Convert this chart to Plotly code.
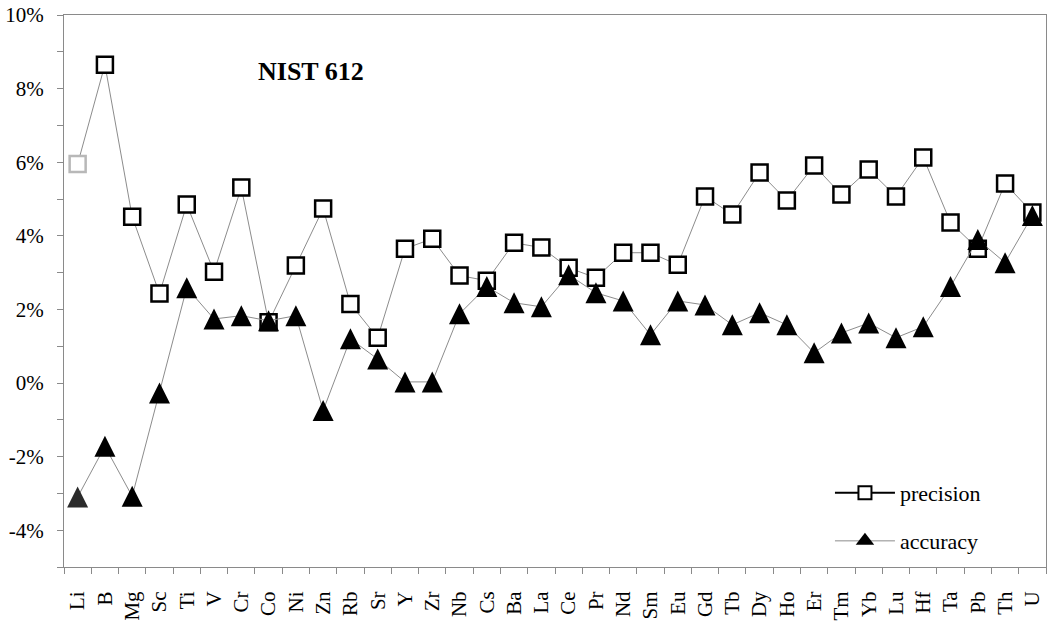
import plotly.graph_objects as go

elements = ["Li", "B", "Mg", "Sc", "Ti", "V", "Cr", "Co", "Ni", "Zn", "Rb", "Sr", "Y", "Zr",
            "Nb", "Cs", "Ba", "La", "Ce", "Pr", "Nd", "Sm", "Eu", "Gd", "Tb", "Dy", "Ho", "Er",
            "Tm", "Yb", "Lu", "Hf", "Ta", "Pb", "Th", "U"]

precision = [5.95, 8.65, 4.52, 2.43, 4.85, 3.02, 5.31, 1.65, 3.19, 4.74, 2.15, 1.23, 3.65, 3.92,
             2.92, 2.78, 3.81, 3.68, 3.13, 2.86, 3.54, 3.54, 3.21, 5.07, 4.58, 5.72, 4.96, 5.91,
             5.12, 5.80, 5.07, 6.13, 4.36, 3.65, 5.42, 4.63]

accuracy = [-3.10, -1.72, -3.08, -0.27, 2.59, 1.74, 1.83, 1.69, 1.83, -0.75, 1.20, 0.65, 0.03, 0.03,
            1.88, 2.62, 2.18, 2.07, 2.94, 2.45, 2.23, 1.31, 2.23, 2.12, 1.58, 1.91, 1.58, 0.82,
            1.36, 1.63, 1.23, 1.53, 2.62, 3.90, 3.27, 4.55]

y_tickvals = [-4, -2, 0, 2, 4, 6, 8, 10]
y_ticktext = ["-4%", "-2%", "0%", "2%", "4%", "6%", "8%", "10%"]
y_minorvals = [-5, -3, -1, 1, 3, 5, 7, 9]

SERIF = "Liberation Serif, Times New Roman, serif"

sq_line_colors = ["#b8b8b8"] + ["#000000"] * (len(elements) - 1)
tri_colors = ["#2b2b2b"] + ["#000000"] * (len(elements) - 1)

fig = go.Figure()

fig.add_trace(go.Scatter(
    x=elements, y=precision, mode="lines+markers", name="precision", showlegend=False,
    line=dict(color="#8c8c8c", width=1),
    marker=dict(symbol="square", size=16, color="white",
                line=dict(color=sq_line_colors, width=2.5)),
))

fig.add_trace(go.Scatter(
    x=elements, y=accuracy, mode="lines+markers", name="accuracy", showlegend=False,
    line=dict(color="#8c8c8c", width=1),
    marker=dict(symbol="arrow-down", angle=180, standoff=10.5, size=21, color=tri_colors,
                line=dict(width=0)),
))

# legend entries
fig.add_trace(go.Scatter(
    x=[None], y=[None], mode="lines+markers", name="precision", legend="legend",
    line=dict(color="black", width=2),
    marker=dict(symbol="square", size=13, color="white", line=dict(color="black", width=2)),
))
fig.add_trace(go.Scatter(
    x=[None], y=[None], mode="lines+markers", name="accuracy", legend="legend2",
    line=dict(color="#8c8c8c", width=1),
    marker=dict(symbol="triangle-up", size=16, color="black", line=dict(width=0)),
))

fig.update_layout(
    width=1052, height=621,
    margin=dict(l=64, r=6, t=15, b=54),
    paper_bgcolor="white", plot_bgcolor="white",
    font=dict(family=SERIF, color="black", size=20),
    legend=dict(x=0.78, y=0.134, xanchor="left", yanchor="middle", itemwidth=60,
                font=dict(family=SERIF, size=22), bgcolor="rgba(0,0,0,0)"),
    legend2=dict(x=0.78, y=0.047, xanchor="left", yanchor="middle", itemwidth=60,
                 font=dict(family=SERIF, size=22), bgcolor="rgba(0,0,0,0)"),
    annotations=[dict(text="<b>NIST 612</b>", x=0.252, y=0.897, xref="paper", yref="paper",
                      xanchor="center", yanchor="middle",
                      showarrow=False, font=dict(family=SERIF, size=26, color="black"))],
)

fig.update_xaxes(
    type="category", categoryorder="array", categoryarray=elements,
    range=[-0.5, len(elements) - 0.5], automargin=False,
    showline=True, linecolor="#8a8a8a", linewidth=1, mirror=True,
    ticks="outside", tickson="boundaries", ticklen=6, tickcolor="#8a8a8a",
    tickangle=-90, tickfont=dict(family=SERIF, size=21), ticklabelstandoff=15,
    showgrid=False, zeroline=False,
)

fig.update_yaxes(
    range=[-5, 10], automargin=False,
    tickmode="array", tickvals=y_tickvals, ticktext=y_ticktext,
    showline=True, linecolor="#8a8a8a", linewidth=1, mirror=True,
    ticks="outside", ticklen=6, tickcolor="#8a8a8a",
    minor=dict(tickmode="array", tickvals=y_minorvals, ticks="outside", ticklen=6,
               tickcolor="#8a8a8a", showgrid=False),
    tickfont=dict(family=SERIF, size=21), ticklabelstandoff=9,
    showgrid=False, zeroline=False,
)

fig.write_html("out.html")
